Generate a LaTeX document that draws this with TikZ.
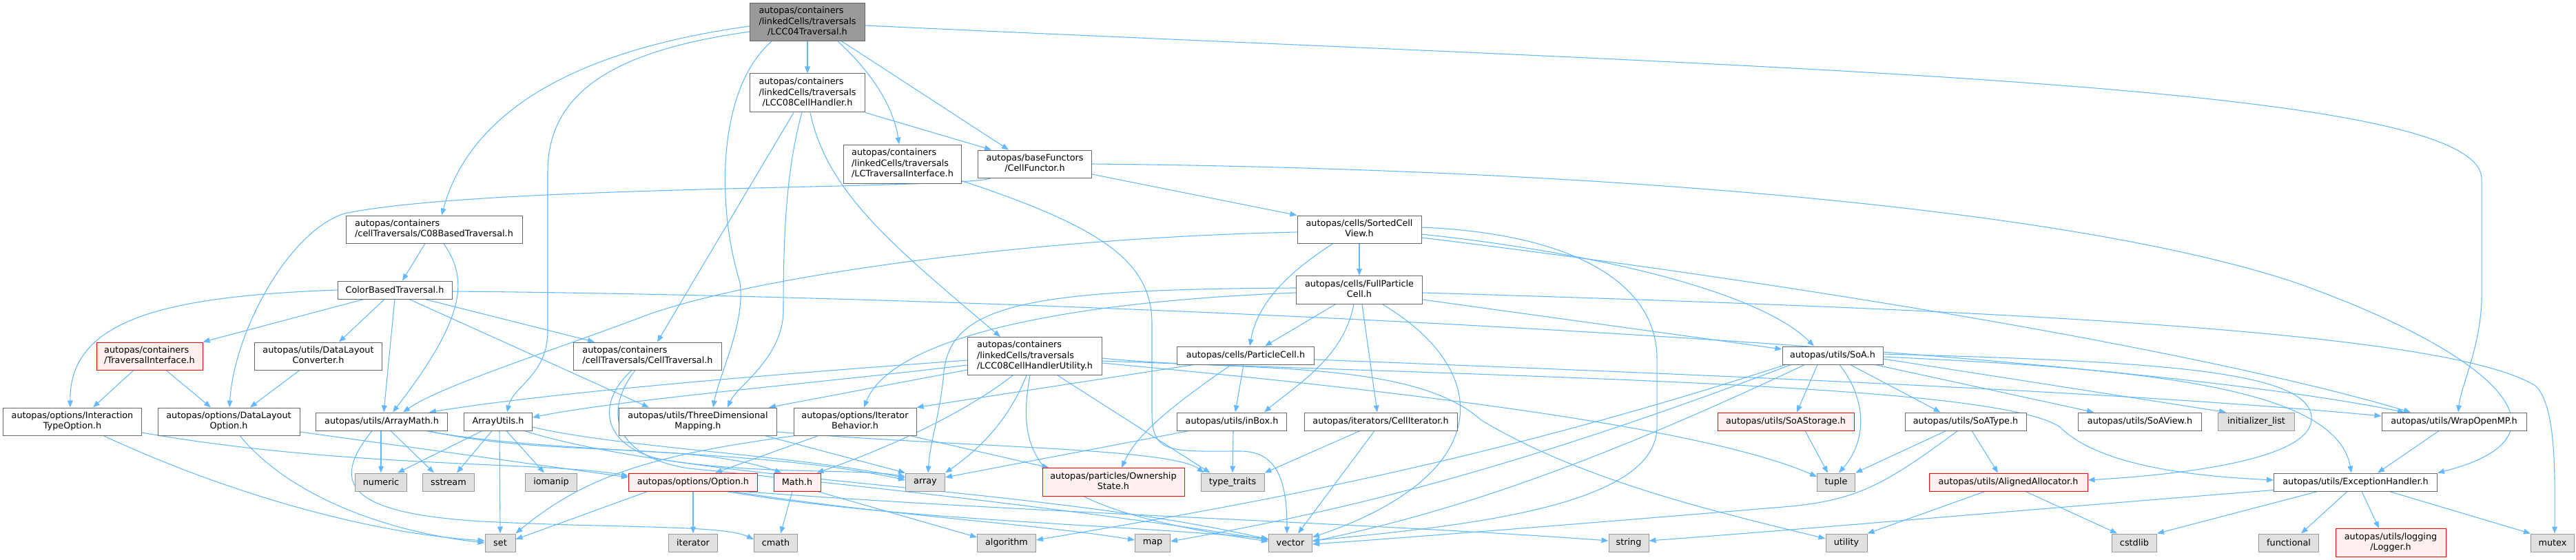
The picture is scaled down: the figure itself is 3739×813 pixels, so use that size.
\documentclass[tikz,border=0pt]{standalone}
\usepackage{fontspec}
\setmainfont{DejaVu Sans}
\usetikzlibrary{arrows.meta,calc}
\pgfdeclarelayer{edges}
\pgfsetlayers{edges,main}
\definecolor{edgec}{HTML}{63B8FF}
\definecolor{bord}{HTML}{666666}
\definecolor{curf}{HTML}{999999}
\definecolor{sysf}{HTML}{E0E0E0}
\definecolor{sysb}{HTML}{999999}
\definecolor{redf}{HTML}{FFF0F0}
\definecolor{redb}{HTML}{FF0000}
\newcommand{\ptab}[1]{\begin{tabular}{@{}l@{}}#1\end{tabular}}
\newcommand{\lastl}[1]{\multicolumn{1}{@{}c@{}}{#1}}
\tikzset{
 box/.style={draw=bord, fill=white, line width=0.75pt, inner sep=0pt, rectangle, font=\fontsize{9.6}{11.4}\selectfont, text=black},
 cur/.style={box, fill=curf},
 sys/.style={box, draw=sysb, fill=sysf},
 redbox/.style={box, draw=redb, fill=redf},
 sz/.style 2 args={minimum width=#1*0.75pt, minimum height=#2*0.75pt},
 dep/.style={draw=edgec, line width=0.8pt, -{Triangle[length=7.5pt,width=5.8pt]}},
}
\begin{document}
\begin{tikzpicture}[x=0.75pt,y=-0.75pt]
\useasboundingbox (0,0) rectangle (3739,813);
% ---- nodes ----
\node[cur,sz={167}{55}] (lcc04) at (1172,32) {\ptab{autopas/containers\\/linkedCells/traversals\\\lastl{/LCC04Traversal.h}}};
\node[box,sz={167}{56}] (lcc08ch) at (1172,135) {\ptab{autopas/containers\\/linkedCells/traversals\\\lastl{/LCC08CellHandler.h}}};
\node[box,sz={171}{56}] (lctrav) at (1310,238) {\ptab{autopas/containers\\/linkedCells/traversals\\\lastl{/LCTraversalInterface.h}}};
\node[box,sz={165}{40}] (cellfunctor) at (1502,238) {\ptab{autopas/baseFunctors\\\lastl{/CellFunctor.h}}};
\node[box,sz={256}{40}] (c08) at (630,333) {\ptab{autopas/containers\\\lastl{/cellTraversals/C08BasedTraversal.h}}};
\node[box,sz={180}{40}] (sortedcv) at (1973,333) {\ptab{autopas/cells/SortedCell\\\lastl{View.h}}};
\node[box,sz={166}{26}] (colorbased) at (573,421) {ColorBasedTraversal.h};
\node[box,sz={183}{41}] (fullpc) at (1973,421) {\ptab{autopas/cells/FullParticle\\\lastl{Cell.h}}};
\node[redbox,sz={154}{40}] (travint) at (217,517) {\ptab{autopas/containers\\\lastl{/TraversalInterface.h}}};
\node[box,sz={185}{40}] (dlconv) at (462,517) {\ptab{autopas/utils/DataLayout\\\lastl{Converter.h}}};
\node[box,sz={215}{40}] (celltrav) at (940,517) {\ptab{autopas/containers\\\lastl{/cellTraversals/CellTraversal.h}}};
\node[box,sz={195}{55}] (lcc08util) at (1502,517) {\ptab{autopas/containers\\/linkedCells/traversals\\\lastl{/LCC08CellHandlerUtility.h}}};
\node[box,sz={199}{26}] (particlecell) at (1808,516) {autopas/cells/ParticleCell.h};
\node[box,sz={146}{26}] (soa) at (2660,516) {autopas/utils/SoA.h};
\node[box,sz={201}{40}] (intertype) at (105,612) {\ptab{autopas/options/Interaction\\\lastl{TypeOption.h}}};
\node[box,sz={206}{40}] (dlopt) at (332,612) {\ptab{autopas/options/DataLayout\\\lastl{Option.h}}};
\node[box,sz={191}{26}] (arraymath) at (554,612) {autopas/utils/ArrayMath.h};
\node[box,sz={99}{26}] (arrayutils) at (723,612) {ArrayUtils.h};
\node[box,sz={229}{40}] (threedim) at (1013,612) {\ptab{autopas/utils/ThreeDimensional\\\lastl{Mapping.h}}};
\node[box,sz={178}{40}] (iterbeh) at (1241,612) {\ptab{autopas/options/Iterator\\\lastl{Behavior.h}}};
\node[box,sz={159}{26}] (inbox) at (1788,612) {autopas/utils/inBox.h};
\node[box,sz={222}{26}] (celliter) at (2004,612) {autopas/iterators/CellIterator.h};
\node[redbox,sz={198}{26}] (soastorage) at (2592,612) {autopas/utils/SoAStorage.h};
\node[box,sz={176}{26}] (soatype) at (2853,612) {autopas/utils/SoAType.h};
\node[box,sz={179}{26}] (soaview) at (3106,612) {autopas/utils/SoAView.h};
\node[sys,sz={111}{26}] (initlist) at (3275,612) {initializer\_list};
\node[box,sz={210}{26}] (wrapomp) at (3562,612) {autopas/utils/WrapOpenMP.h};
\node[sys,sz={75}{26}] (numeric) at (553,700) {numeric};
\node[sys,sz={75}{26}] (sstream) at (651,700) {sstream};
\node[sys,sz={75}{26}] (iomanip) at (800,700) {iomanip};
\node[redbox,sz={187}{26}] (option) at (1006,700) {autopas/options/Option.h};
\node[redbox,sz={68}{26}] (mathh) at (1157,700) {Math.h};
\node[sys,sz={57}{26}] (array) at (1343,700) {array};
\node[redbox,sz={206}{41}] (ownership) at (1616,700) {\ptab{autopas/particles/Ownership\\\lastl{State.h}}};
\node[sys,sz={92}{26}] (typetraits) at (1789,700) {type\_traits};
\node[sys,sz={55}{26}] (tuple) at (2665,700) {tuple};
\node[redbox,sz={230}{26}] (alignedalloc) at (2915,700) {autopas/utils/AlignedAllocator.h};
\node[box,sz={237}{26}] (exception) at (3419,700) {autopas/utils/ExceptionHandler.h};
\node[sys,sz={44}{26}] (set) at (726,788) {set};
\node[sys,sz={71}{26}] (iterator) at (1006,788) {iterator};
\node[sys,sz={63}{26}] (cmath) at (1126,788) {cmath};
\node[sys,sz={85}{26}] (algorithm) at (1461,788) {algorithm};
\node[sys,sz={51}{26}] (map) at (1673,788) {map};
\node[sys,sz={63}{26}] (vector) at (1873,788) {vector};
\node[sys,sz={58}{26}] (string) at (2364,788) {string};
\node[sys,sz={60}{26}] (utility) at (2680,788) {utility};
\node[sys,sz={65}{26}] (cstdlib) at (3098,788) {cstdlib};
\node[sys,sz={87}{26}] (functional) at (3322,788) {functional};
\node[redbox,sz={160}{41}] (logger) at (3470,788) {\ptab{autopas/utils/logging\\\lastl{/Logger.h}}};
\node[sys,sz={63}{26}] (mutex) at (3705,788) {mutex};
% ---- edges ----
\begin{pgfonlayer}{edges}
% LCC04Traversal
\draw[dep] ($(lcc04.west)+(0,6)$) .. controls (820,75) and (680,170) .. ($(c08.north)+(11,0)$);
\draw[dep] ($(lcc04.west)+(0,14)$) .. controls (880,75) and (795,140) .. (795,250) -- (795,480) .. controls (795,545) and (745,560) .. ($(arrayutils.north)+(13,0)$);
\draw[dep] ($(lcc04.south)+(-52,0)$) .. controls (1040,130) and (1040,300) .. (1074,410) .. controls (1082,470) and (1045,540) .. ($(threedim.north)+(22,0)$);
\draw[dep] (lcc04.south) -- (lcc08ch.north);
\draw[dep] ($(lcc04.south)+(44,0)$) .. controls (1260,100) and (1296,150) .. ($(lctrav.north)+(-5,0)$);
\draw[dep] ($(lcc04.south)+(50,0)$) -- ($(cellfunctor.north)+(-38,0)$);
\draw[dep] ($(lcc04.east)+(0,5)$) .. controls (2600,100) and (3602,120) .. (3602,260) -- (3602,430) .. controls (3602,500) and (3572,560) .. ($(wrapomp.north)+(6,0)$);
% LCC08CellHandler
\draw[dep] ($(lcc08ch.south)+(-20,0)$) -- ($(celltrav.north)+(14,0)$);
\draw[dep] ($(lcc08ch.south)+(-8,0)$) .. controls (1140,250) and (1137,350) .. (1137,450) .. controls (1137,520) and (1070,560) .. ($(threedim.north)+(43,0)$);
\draw[dep] ($(lcc08ch.south)+(4,0)$) .. controls (1200,280) and (1300,360) .. ($(lcc08util.north)+(-50,0)$);
\draw[dep] (lcc08ch.south east) -- ($(cellfunctor.north)+(-63,0)$);
% LCTraversalInterface
\draw[dep] ($(lctrav.south east)+(0,-4)$) .. controls (1600,330) and (1672,380) .. (1672,470) -- (1672,600) .. controls (1672,660) and (1700,655) .. (1800,655) .. controls (1855,655) and (1868,700) .. ($(vector.north)+(-5,0)$);
% CellFunctor
\draw[dep] ($(cellfunctor.south west)+(20,0)$) .. controls (1400,275) and (700,268) .. (500,310) .. controls (420,335) and (340,480) .. ($(dlopt.north)+(1,0)$);
\draw[dep] ($(cellfunctor.east)+(0,15)$) -- (sortedcv.north west);
\draw[dep] (cellfunctor.east) .. controls (2300,245) and (3000,300) .. (3331,410) .. controls (3600,505) and (3760,630) .. (exception.north east);
% C08BasedTraversal
\draw[dep] ($(c08.south)+(-13,0)$) -- ($(colorbased.north)+(11,0)$);
\draw[dep] ($(c08.south)+(14,0)$) .. controls (675,400) and (685,450) .. ($(arraymath.north)+(16,0)$);
% SortedCellView
\draw[dep] ($(sortedcv.west)+(0,4)$) .. controls (1500,345) and (1100,400) .. (940,457) .. controls (800,510) and (640,560) .. ($(arraymath.north)+(31,0)$);
\draw[dep] (sortedcv.south) -- (fullpc.north);
\draw[dep] ($(sortedcv.south)+(-38,0)$) .. controls (1870,395) and (1825,440) .. ($(particlecell.north)+(6,0)$);
\draw[dep] ($(sortedcv.east)+(0,-3)$) .. controls (2300,340) and (2405,420) .. (2405,520) -- (2405,620) .. controls (2405,740) and (2100,765) .. ($(vector.east)+(0,-3)$);
\draw[dep] ($(sortedcv.east)+(0,7)$) .. controls (2300,365) and (2550,420) .. ($(soa.north)+(-27,0)$);
\draw[dep] ($(sortedcv.east)+(0,12)$) .. controls (2600,410) and (3200,510) .. ($(wrapomp.north)+(-63,0)$);
% ColorBasedTraversal
\draw[dep] (colorbased.west) .. controls (250,430) and (100,460) .. ($(intertype.north)+(-3,0)$);
\draw[dep] ($(colorbased.south)+(-45,0)$) -- (travint.north east);
\draw[dep] ($(colorbased.south)+(-15,0)$) -- ($(dlconv.north)+(30,0)$);
\draw[dep] (colorbased.south) -- ($(arraymath.north)+(3,0)$);
\draw[dep] ($(colorbased.south)+(21,0)$) -- ($(threedim.north)+(-71,0)$);
\draw[dep] ($(colorbased.south)+(44,0)$) -- ($(celltrav.north)+(-77,0)$);
\draw[dep] ($(colorbased.east)+(0,2)$) .. controls (1500,430) and (3000,500) .. ($(wrapomp.north)+(-72,0)$);
% TraversalInterface, DataLayoutConverter
\draw[dep] ($(travint.south)+(-23,0)$) -- ($(intertype.north)+(30,0)$);
\draw[dep] ($(travint.south)+(24,0)$) -- ($(dlopt.north)+(-26,0)$);
\draw[dep] ($(dlconv.south)+(-27,0)$) -- ($(dlopt.north)+(31,0)$);
% CellTraversal
\draw[dep] ($(celltrav.south)+(-23,0)$) .. controls (860,590) and (880,650) .. (960,667) .. controls (1100,690) and (1250,680) .. ($(array.west)+(0,-8)$);
\draw[dep] ($(celltrav.south)+(-18,0)$) .. controls (870,605) and (900,665) .. (1000,680) .. controls (1400,720) and (1700,760) .. ($(vector.west)+(0,-4)$);
% LCC08CellHandlerUtility
\draw[dep] ($(lcc08util.west)+(0,6)$) .. controls (1100,545) and (800,570) .. ($(arraymath.north east)+(-27,0)$);
\draw[dep] ($(lcc08util.west)+(0,13)$) .. controls (1200,555) and (900,580) .. ($(arrayutils.east)+(0,-6)$);
\draw[dep] ($(lcc08util.west)+(0,20)$) -- ($(threedim.north east)+(-12,0)$);
\draw[dep] ($(lcc08util.south)+(-32,0)$) .. controls (1400,600) and (1290,650) .. ($(mathh.north east)+(-6,0)$);
\draw[dep] ($(lcc08util.south)+(-12,0)$) .. controls (1460,620) and (1410,660) .. (array.north east);
\draw[dep] ($(lcc08util.south)+(-7,0)$) .. controls (1470,680) and (1520,740) .. ($(vector.west)+(0,-2)$);
\draw[dep] ($(lcc08util.south)+(33,0)$) -- ($(typetraits.north west)+(14,0)$);
\draw[dep] ($(lcc08util.east)+(0,10)$) .. controls (1900,555) and (2450,610) .. ($(tuple.west)+(0,-8)$);
\draw[dep] ($(lcc08util.east)+(0,3)$) .. controls (1800,540) and (2050,520) .. (2150,610) .. controls (2300,700) and (2500,745) .. ($(utility.west)+(0,-6)$);
\draw[dep] ($(lcc08util.east)+(0,7)$) .. controls (2300,550) and (2900,560) .. (2990,620) .. controls (3050,680) and (3200,692) .. ($(exception.west)+(0,-3)$);
% ParticleCell
\draw[dep] ($(particlecell.south west)+(25,0)$) -- (iterbeh.north east);
\draw[dep] ($(particlecell.south)+(-3,0)$) -- ($(inbox.north)+(5,0)$);
\draw[dep] ($(particlecell.south)+(-21,0)$) .. controls (1700,590) and (1650,630) .. ($(ownership.north)+(12,0)$);
\draw[dep] ($(particlecell.east)+(0,6)$) .. controls (2500,545) and (3100,570) .. ($(wrapomp.west)+(0,-8)$);
% FullParticleCell
\draw[dep] ($(fullpc.south)+(-35,0)$) -- ($(particlecell.north east)+(-72,0)$);
\draw[dep] ($(fullpc.south)+(-8,0)$) .. controls (1950,520) and (1880,560) .. ($(inbox.north east)+(-33,0)$);
\draw[dep] ($(fullpc.west)+(0,4)$) .. controls (1500,440) and (1290,500) .. ($(iterbeh.north)+(13,0)$);
\draw[dep] ($(fullpc.west)+(0,-3)$) .. controls (1500,420) and (1380,440) .. (1370,540) .. controls (1365,600) and (1350,640) .. ($(array.north)+(4,0)$);
\draw[dep] ($(fullpc.south)+(4,0)$) -- ($(celliter.north)+(-5,0)$);
\draw[dep] ($(fullpc.east)+(0,14)$) -- ($(soa.west)+(0,-9)$);
\draw[dep] ($(fullpc.south)+(34,0)$) .. controls (2170,540) and (2170,690) .. ($(vector.east)+(0,-8)$);
\draw[dep] ($(fullpc.east)+(0,4)$) .. controls (2900,450) and (3550,480) .. (3680,560) .. controls (3712,590) and (3708,700) .. ($(mutex.north)+(3,0)$);
% inBox, CellIterator
\draw[dep] ($(inbox.south west)+(18,0)$) -- ($(array.east)+(0,-7)$);
\draw[dep] ($(inbox.south)+(2,0)$) -- (typetraits.north);
\draw[dep] ($(celliter.south)+(-30,0)$) -- (typetraits.north east);
\draw[dep] ($(celliter.south)+(-9,0)$) -- ($(vector.north)+(11,0)$);
% IteratorBehavior
\draw[dep] ($(iterbeh.south)+(-53,0)$) -- ($(option.north east)+(-62,0)$);
\draw[dep] ($(iterbeh.south east)+(-10,0)$) -- ($(ownership.north west)+(10,0)$);
\draw[dep] ($(iterbeh.south west)+(3,0)$) .. controls (950,660) and (850,690) .. (set.north east);
% Option, Math
\draw[dep] (option.south) -- (iterator.north);
\draw[dep] ($(option.south west)+(28,0)$) -- ($(set.east)+(0,-5)$);
\draw[dep] ($(option.south east)+(-37,0)$) .. controls (1300,750) and (1500,760) .. ($(map.west)+(0,-4)$);
\draw[dep] ($(option.south east)+(-45,0)$) .. controls (1300,755) and (1600,760) .. ($(vector.west)+(0,-6)$);
\draw[dep] ($(option.south east)+(-22,0)$) .. controls (1500,745) and (2000,760) .. ($(string.west)+(0,-3)$);
\draw[dep] ($(mathh.south)+(-7,0)$) -- ($(cmath.north)+(7,0)$);
\draw[dep] ($(mathh.south east)+(-5,0)$) -- ($(algorithm.west)+(0,-8)$);
% ArrayMath
\draw[dep] ($(arraymath.south)+(-1,0)$) -- (numeric.north);
\draw[dep] ($(arraymath.south)+(13,0)$) -- ($(sstream.north)+(-21,0)$);
\draw[dep] ($(arraymath.south)+(-14,0)$) .. controls (480,700) and (500,745) .. (700,757) .. controls (900,767) and (1050,762) .. ($(cmath.west)+(0,-5)$);
\draw[dep] ($(arraymath.south east)+(-32,0)$) .. controls (800,660) and (1100,650) .. ($(array.west)+(0,-3)$);
\draw[dep] ($(arraymath.south east)+(-29,0)$) .. controls (800,665) and (1000,640) .. ($(mathh.north west)+(12,0)$);
% ArrayUtils
\draw[dep] ($(arrayutils.south)+(-23,0)$) -- ($(numeric.north)+(24,0)$);
\draw[dep] ($(arrayutils.south)+(-9,0)$) -- ($(sstream.north)+(12,0)$);
\draw[dep] ($(arrayutils.south)+(12,0)$) -- ($(iomanip.north)+(-10,0)$);
\draw[dep] ($(arrayutils.south)+(2,0)$) -- (set.north);
\draw[dep] ($(arrayutils.east)+(0,8)$) .. controls (900,650) and (1150,660) .. ($(array.west)+(0,-6)$);
\draw[dep] ($(arrayutils.south east)+(-12,0)$) .. controls (1000,700) and (1500,705) .. ($(vector.west)+(0,-5)$);
% ThreeDimensionalMapping
\draw[dep] ($(threedim.south east)+(-18,0)$) -- (array.north west);
\draw[dep] ($(threedim.east)+(0,15)$) .. controls (1400,650) and (1700,650) .. ($(typetraits.north west)+(5,0)$);
% SoA
\draw[dep] ($(soa.south)+(-22,0)$) -- ($(soastorage.north)+(16,0)$);
\draw[dep] ($(soa.south)+(10,0)$) .. controls (2710,580) and (2710,640) .. ($(tuple.north)+(4,0)$);
\draw[dep] ($(soa.south east)+(-48,0)$) -- ($(soatype.north west)+(52,0)$);
\draw[dep] ($(soa.south east)+(-12,0)$) -- ($(soaview.north west)+(23,0)$);
\draw[dep] ($(soa.east)+(0,5)$) -- ($(initlist.north west)+(12,0)$);
\draw[dep] ($(soa.south west)+(33,0)$) .. controls (2300,680) and (2100,745) .. ($(vector.east)+(0,-2)$);
\draw[dep] ($(soa.south west)+(13,0)$) .. controls (2150,700) and (1900,750) .. ($(map.east)+(0,-2)$);
\draw[dep] ($(soa.south west)+(5,0)$) .. controls (2100,690) and (1700,750) .. ($(algorithm.east)+(0,-4)$);
\draw[dep] ($(soa.east)+(0,-2)$) .. controls (3150,525) and (3360,540) .. (3355,610) .. controls (3350,670) and (3150,690) .. ($(alignedalloc.east)+(0,-3)$);
\draw[dep] ($(soa.east)+(0,2)$) .. controls (3100,535) and (3390,560) .. ($(exception.north)+(-6,0)$);
% SoAStorage, SoAType, WrapOpenMP
\draw[dep] ($(soastorage.south)+(28,0)$) -- ($(tuple.north)+(-12,0)$);
\draw[dep] ($(soatype.south west)+(60,0)$) -- (tuple.north east);
\draw[dep] ($(soatype.south west)+(77,0)$) .. controls (2740,700) and (2700,725) .. (2600,735) .. controls (2300,760) and (2050,780) .. ($(vector.east)+(0,2)$);
\draw[dep] ($(soatype.south)+(9,0)$) -- ($(alignedalloc.north)+(-15,0)$);
\draw[dep] ($(wrapomp.south)+(-22,0)$) -- ($(exception.north east)+(-87,0)$);
% AlignedAllocator, ExceptionHandler
\draw[dep] ($(alignedalloc.south)+(25,0)$) -- ($(cstdlib.north)+(-25,0)$);
\draw[dep] ($(alignedalloc.south)+(-34,0)$) -- (utility.north east);
\draw[dep] ($(exception.south west)+(0,-2)$) .. controls (3000,735) and (2600,770) .. ($(string.east)+(0,-3)$);
\draw[dep] ($(exception.south)+(-55,0)$) -- (cstdlib.north east);
\draw[dep] ($(exception.south)+(-12,0)$) -- ($(functional.north)+(18,0)$);
\draw[dep] ($(exception.south)+(9,0)$) -- ($(logger.north)+(-17,0)$);
\draw[dep] ($(exception.south east)+(-70,0)$) -- (mutex.north west);
% Interaction/DataLayout options
\draw[dep] ($(intertype.south)+(45,0)$) .. controls (350,725) and (550,775) .. ($(set.west)+(0,-3)$);
\draw[dep] ($(intertype.east)+(0,16)$) .. controls (500,680) and (800,670) .. ($(option.west)+(0,-9)$);
\draw[dep] ($(dlopt.south)+(16,0)$) .. controls (420,720) and (560,772) .. (set.west);
\draw[dep] ($(dlopt.east)+(0,15)$) -- ($(option.west)+(0,-7)$);
\end{pgfonlayer}
\end{tikzpicture}
\end{document}
